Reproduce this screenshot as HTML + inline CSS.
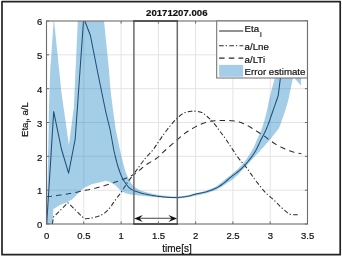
<!DOCTYPE html>
<html lang="en"><head><meta charset="utf-8"><title>20171207.006</title>
<style>
html,body{margin:0;padding:0;background:#fff;}
body{width:342px;height:257px;overflow:hidden;font-family:"Liberation Sans",Arial,sans-serif;}
svg{display:block;}
text{font-family:"Liberation Sans",Arial,sans-serif;fill:#111111;stroke:#111111;stroke-width:0.2px;}
</style></head><body>
<svg width="342" height="257" viewBox="0 0 342 257">
<rect x="0" y="0" width="342" height="257" fill="#fff"/>
<path d="M2,1.6 H340.2 V254.7 H2 Z" fill="none" stroke="#242424" stroke-width="1.7" stroke-linejoin="round"/>
<defs><clipPath id="ax"><rect x="46.5" y="21.0" width="261.0" height="203.0"/></clipPath></defs>
<path d="M83.8,21.0 V224.0 M121.1,21.0 V224.0 M158.4,21.0 V224.0 M195.6,21.0 V224.0 M232.9,21.0 V224.0 M270.2,21.0 V224.0 M46.5,190.2 H307.5 M46.5,156.3 H307.5 M46.5,122.5 H307.5 M46.5,88.7 H307.5 M46.5,54.8 H307.5" stroke="#e4e4e4" stroke-width="1" fill="none"/>
<g clip-path="url(#ax)">
<polyline points="52.4,224.0 53.4,217.2 67.9,202.7 84.4,218.8 85.9,218.7 87.4,218.6 88.9,218.4 90.4,218.1 91.9,217.9 93.4,217.5 94.9,217.2 96.4,216.8 97.9,216.4 99.4,215.8 100.9,215.2 102.4,214.5 103.9,213.6 105.4,212.4 107.0,210.9 108.5,209.2 110.0,207.4 111.5,205.6 113.0,203.4 114.5,201.2 116.0,199.1 117.5,197.1 119.0,195.2 120.5,193.2 122.0,191.1 123.5,188.8 125.0,186.3 126.5,183.9 128.0,181.7 129.5,179.6 131.0,177.7 132.5,175.7 134.0,173.7 135.5,171.6 137.0,169.5 138.5,167.4 140.0,165.3 141.5,163.3 143.0,161.2 144.5,159.3 146.0,157.5 147.5,155.8 149.1,154.2 150.6,152.6 152.1,150.9 153.6,149.0 155.1,146.9 156.6,144.7 158.1,142.4 159.6,140.2 161.1,138.1 162.6,135.9 164.1,133.8 165.6,131.7 167.1,129.7 168.6,127.8 170.1,126.0 171.6,124.1 173.1,122.4 174.6,120.7 176.1,119.2 177.6,117.8 179.1,116.5 180.6,115.2 182.1,114.1 183.6,113.2 185.1,112.6 186.6,112.2 188.1,111.8 189.6,111.4 191.1,111.2 192.7,111.1 194.2,111.1 195.7,111.2 197.2,111.4 198.7,111.7 200.2,112.0 201.7,112.4 203.2,113.2 204.7,114.3 206.2,115.6 207.7,117.0 209.2,118.3 210.7,119.8 212.2,121.3 213.7,123.0 215.2,124.8 216.7,126.9 218.2,129.0 219.7,131.1 221.2,133.0 222.7,135.0 224.2,136.9 225.7,139.0 227.2,141.3 228.7,143.5 230.2,145.9 231.7,148.1 233.2,150.4 234.7,152.7 236.3,155.0 237.8,157.1 239.3,159.1 240.8,160.9 242.3,162.6 243.8,164.3 245.3,166.1 246.8,168.0 248.3,170.1 249.8,172.3 251.3,174.4 252.8,176.6 254.3,178.7 255.8,180.7 257.3,182.7 258.8,184.6 260.3,186.5 261.8,188.4 263.3,190.2 264.8,191.9 266.3,193.4 267.8,194.8 269.3,196.1 270.8,197.4 272.3,198.6 273.8,199.9 275.3,201.3 276.8,202.9 278.4,204.5 279.9,206.1 281.4,207.5 282.9,208.8 284.4,210.1 285.9,211.4 287.4,212.6 288.9,213.6 290.4,214.4 291.9,214.7 293.4,214.7 294.9,214.7 296.4,214.7 297.9,214.7 299.4,214.7" fill="none" stroke="#2a2a2a" stroke-width="1.05" stroke-dasharray="4.6,2,1.3,2.3"/>
<polyline points="46.5,196.7 48.0,196.6 49.5,196.4 51.0,196.3 52.5,196.1 54.0,195.9 55.5,195.7 57.0,195.5 58.5,195.3 60.0,195.1 61.5,194.9 63.0,194.6 64.5,194.4 66.0,194.2 67.5,193.9 69.0,193.6 70.5,193.4 72.0,193.1 73.5,192.8 75.0,192.5 76.5,192.2 78.0,191.9 79.5,191.6 81.0,191.3 82.5,191.0 84.0,190.7 85.5,190.3 87.0,190.0 88.5,189.7 90.0,189.3 91.5,189.0 93.0,188.7 94.5,188.3 96.0,188.0 97.5,187.6 99.0,187.2 100.5,186.8 102.0,186.4 103.5,185.9 105.0,185.5 106.5,185.0 108.0,184.6 109.5,184.1 111.0,183.6 112.5,183.1 114.0,182.6 115.5,182.0 117.0,181.5 118.5,181.0 120.0,180.5 121.5,179.9 123.0,179.4 124.5,178.8 126.0,178.2 127.5,177.6 129.0,176.9 130.5,176.2 132.0,175.4 133.5,174.6 135.0,173.7 136.5,172.6 138.0,171.5 139.5,170.2 141.0,169.0 142.5,167.7 144.0,166.5 145.5,165.3 147.0,164.2 148.5,163.3 150.0,162.4 151.5,161.5 153.0,160.6 154.5,159.7 156.0,158.7 157.5,157.6 159.0,156.3 160.5,154.9 162.0,153.4 163.5,151.9 165.0,150.5 166.5,149.1 168.0,147.8 169.5,146.5 171.0,145.2 172.5,143.9 174.0,142.6 175.5,141.3 177.0,140.0 178.5,138.7 180.0,137.4 181.5,136.1 183.0,134.8 184.5,133.6 186.0,132.5 187.5,131.5 189.0,130.6 190.5,129.6 192.0,128.8 193.5,127.9 195.0,127.1 196.5,126.3 198.0,125.5 199.5,124.8 201.0,124.2 202.5,123.6 204.0,123.1 205.5,122.5 207.0,122.0 208.5,121.6 210.0,121.2 211.5,121.0 213.0,120.9 214.5,120.7 216.0,120.6 217.5,120.5 219.0,120.5 220.5,120.4 222.0,120.4 223.5,120.4 225.0,120.4 226.5,120.5 228.0,120.5 229.5,120.6 231.0,120.7 232.5,120.8 234.0,121.0 235.5,121.2 237.0,121.4 238.5,121.7 240.0,122.2 241.5,122.8 243.0,123.4 244.5,124.1 246.0,124.8 247.5,125.6 249.0,126.4 250.5,127.3 252.0,128.3 253.5,129.2 255.0,130.2 256.5,131.1 258.0,132.0 259.5,133.0 261.0,133.9 262.5,134.9 264.0,135.9 265.5,136.9 267.0,138.1 268.5,139.3 270.0,140.4 271.5,141.5 273.0,142.5 274.5,143.5 276.0,144.4 277.5,145.3 279.0,146.1 280.5,146.9 282.0,147.6 283.5,148.3 285.0,149.0 286.5,149.6 288.0,150.3 289.5,150.8 291.0,151.3 292.5,151.8 294.0,152.2 295.5,152.6 297.0,152.9 298.5,153.2 300.0,153.5 301.5,153.7" fill="none" stroke="#2a2a2a" stroke-width="1.05" stroke-dasharray="5.5,4.2"/>
<polygon points="46.5,224.0 47.6,180.0 48.7,127.0 48.8,113.0 50.3,68.0 51.4,54.0 53.8,18.0 61.4,92.0 68.9,145.3 73.8,108.0 77.8,21.0 78.5,10.0 103.0,10.0 104.0,21.0 109.0,70.0 110.4,88.7 113.0,110.0 115.8,130.0 120.0,150.0 121.5,156.8 123.0,162.8 124.5,168.2 126.0,172.7 127.5,176.4 129.0,179.6 130.5,182.2 132.0,184.2 133.5,185.9 135.0,187.3 136.5,188.3 138.0,189.2 139.5,189.9 141.0,190.5 142.5,191.1 144.0,191.6 145.5,192.0 147.0,192.4 148.5,192.8 150.0,193.2 151.5,193.5 153.0,193.9 154.5,194.2 156.0,194.5 157.5,194.8 159.1,195.0 160.6,195.3 162.1,195.5 163.6,195.6 165.1,195.8 166.6,195.9 168.1,196.0 169.6,196.2 171.1,196.3 172.6,196.4 174.1,196.4 175.6,196.5 177.1,196.5 178.6,196.5 180.1,196.4 181.6,196.3 183.1,196.1 184.6,195.8 186.1,195.5 187.6,195.2 189.1,194.9 190.6,194.6 192.1,194.2 193.6,193.8 195.1,193.5 196.6,193.1 198.1,192.8 199.6,192.4 201.1,192.1 202.6,191.7 204.1,191.3 205.6,190.8 207.1,190.3 208.6,189.8 210.1,189.2 211.6,188.6 213.1,187.9 214.6,187.2 216.1,186.4 217.6,185.4 219.1,184.3 220.6,183.1 222.1,181.8 223.6,180.6 225.1,179.4 226.6,178.2 228.1,177.1 229.6,175.9 231.1,174.7 232.6,173.5 234.1,172.2 235.6,170.9 237.2,169.5 238.7,168.0 240.2,166.5 241.7,164.9 243.2,163.2 244.7,161.4 246.2,159.4 247.7,157.3 249.2,155.1 250.7,152.6 252.2,150.0 253.7,147.3 255.2,143.9 256.7,140.3 258.2,137.1 259.7,133.9 261.2,130.2 262.7,126.0 264.2,121.2 265.7,115.5 267.2,109.2 268.7,102.1 270.2,95.4 271.7,89.4 273.2,83.8 274.7,78.7 279.0,21.0 280.0,10.0 301.0,10.0 301.0,85.7 295.1,78.7 294.0,72.0 292.8,78.7 288.3,100.0 285.5,110.0 280.3,124.8 278.8,128.5 270.7,138.8 269.2,140.6 267.7,142.3 266.2,144.0 264.7,145.8 263.2,147.4 261.6,149.1 260.1,150.7 258.6,152.4 257.1,153.9 255.6,155.5 254.1,157.2 252.6,158.8 251.1,160.5 249.6,162.2 248.1,163.9 246.6,165.6 245.0,167.2 243.5,168.8 242.0,170.5 240.5,172.1 239.0,173.7 237.5,175.2 236.0,176.6 234.5,177.9 233.0,179.1 231.5,180.2 230.0,181.3 228.4,182.3 226.9,183.3 225.4,184.3 223.9,185.3 222.4,186.3 220.9,187.2 219.4,188.1 217.9,188.9 216.4,189.7 214.9,190.4 213.4,191.0 211.8,191.5 210.3,192.0 208.8,192.5 207.3,193.0 205.8,193.4 204.3,193.8 202.8,194.2 201.3,194.5 199.8,194.9 198.3,195.2 196.8,195.5 195.2,195.8 193.7,196.1 192.2,196.4 190.7,196.7 189.2,197.0 187.7,197.3 186.2,197.6 184.7,197.8 183.2,198.0 181.7,198.2 180.1,198.3 178.6,198.4 177.1,198.4 175.6,198.4 174.1,198.3 172.6,198.3 171.1,198.2 169.6,198.1 168.1,198.1 166.6,198.0 165.1,197.9 163.5,197.8 162.0,197.7 160.5,197.6 159.0,197.5 157.5,197.3 156.0,197.2 154.5,197.1 153.0,196.9 151.5,196.7 150.0,196.6 148.5,196.4 146.9,196.3 145.4,196.1 143.9,195.9 142.4,195.8 140.9,195.6 139.4,195.5 137.9,195.4 136.4,195.2 134.9,195.1 133.4,194.9 131.9,194.7 130.3,194.4 128.8,194.1 127.3,193.7 125.8,193.2 124.3,192.5 122.8,191.8 121.3,191.0 119.8,189.8 118.3,188.3 116.8,186.7 115.3,185.2 113.7,184.1 112.2,183.2 110.7,182.5 109.2,181.8 107.7,181.2 106.2,180.8 91.6,184.3 83.4,188.3 72.0,199.6 66.8,202.3 60.6,204.8 53.4,208.9 52.4,224.0 46.5,224.0" fill="#0072bd" fill-opacity="0.355"/>
<polyline points="46.7,224.0 53.7,111.6 61.4,149.0 68.6,173.1 75.2,139.0 80.6,62.0 83.7,18.0 90.4,35.5 98.2,75.0 105.8,112.0 110.2,130.0 113.8,150.0 115.3,156.5 116.8,162.4 118.3,167.5 119.8,172.0 121.3,175.8 122.8,178.9 124.4,181.5 125.9,183.8 127.4,185.8 128.9,187.5 130.4,188.7 131.9,189.6 133.4,190.4 134.9,191.0 136.4,191.6 137.9,192.1 139.4,192.6 140.9,193.0 142.5,193.4 144.0,193.8 145.5,194.1 147.0,194.4 148.5,194.7 150.0,195.0 151.5,195.3 153.0,195.5 154.5,195.7 156.0,196.0 157.5,196.2 159.0,196.4 160.6,196.6 162.1,196.8 163.6,197.0 165.1,197.1 166.6,197.2 168.1,197.3 169.6,197.4 171.1,197.4 172.6,197.5 174.1,197.5 175.6,197.5 177.1,197.4 178.7,197.4 180.2,197.2 181.7,197.1 183.2,196.9 184.7,196.7 186.2,196.5 187.7,196.2 189.2,195.9 190.7,195.5 192.2,195.1 193.7,194.6 195.2,194.2 196.8,193.8 198.3,193.5 199.8,193.2 201.3,192.9 202.8,192.6 204.3,192.2 205.8,191.9 207.3,191.5 208.8,191.0 210.3,190.5 211.8,189.9 213.3,189.3 214.9,188.6 216.4,187.9 217.9,187.1 219.4,186.2 220.9,185.2 222.4,184.2 223.9,183.1 225.4,181.8 226.9,180.5 228.4,179.1 229.9,177.8 231.4,176.6 233.0,175.4 234.5,174.3 236.0,173.2 237.5,172.0 239.0,170.8 240.5,169.5 242.0,168.1 243.5,166.6 245.0,165.0 246.5,163.3 248.0,161.5 249.5,159.6 251.1,157.6 252.6,155.5 254.1,153.2 255.6,150.7 257.1,148.0 258.6,144.8 260.1,141.6 261.6,138.6 263.1,135.7 264.6,132.7 266.1,129.5 267.6,125.9 269.2,121.8 270.7,117.4 272.2,113.0 273.7,108.7 275.2,104.3 276.7,100.0 278.2,95.6 280.4,78.0 282.6,55.0 284.5,30.0 285.5,16.0" fill="none" stroke="#1f4f76" stroke-width="1.05" stroke-linejoin="round"/>
</g>
<path d="M133.9,21 V224 M177.3,21 V224" stroke="#6a6a6a" stroke-width="1.5" fill="none"/>
<path d="M138,218.3 H173" stroke="#444" stroke-width="1.1" fill="none"/>
<path d="M134.2,218.4 L142.8,214.9 L139.6,218.4 L142.8,221.9 Z M177,218.4 L168.4,214.9 L171.6,218.4 L168.4,221.9 Z" fill="#111"/>
<rect x="46.5" y="21.0" width="261.0" height="203.0" fill="none" stroke="#6c6c6c" stroke-width="1.1"/>
<path d="M133.2,21 H178 M133.2,224 H178" stroke="#3a3a3a" stroke-width="1.3" fill="none"/>
<path d="M46.5,224.0 v-2.6 M46.5,21.0 v2.6 M83.8,224.0 v-2.6 M83.8,21.0 v2.6 M121.1,224.0 v-2.6 M121.1,21.0 v2.6 M158.4,224.0 v-2.6 M158.4,21.0 v2.6 M195.6,224.0 v-2.6 M195.6,21.0 v2.6 M232.9,224.0 v-2.6 M232.9,21.0 v2.6 M270.2,224.0 v-2.6 M270.2,21.0 v2.6 M307.5,224.0 v-2.6 M307.5,21.0 v2.6 M46.5,224.0 h2.6 M307.5,224.0 h-2.6 M46.5,190.2 h2.6 M307.5,190.2 h-2.6 M46.5,156.3 h2.6 M307.5,156.3 h-2.6 M46.5,122.5 h2.6 M307.5,122.5 h-2.6 M46.5,88.7 h2.6 M307.5,88.7 h-2.6 M46.5,54.8 h2.6 M307.5,54.8 h-2.6 M46.5,21.0 h2.6 M307.5,21.0 h-2.6" stroke="#6c6c6c" stroke-width="1" fill="none"/>
<g font-size="9.5" text-anchor="middle">
<text x="46.6" y="238.8">0</text><text x="83.9" y="238.8">0.5</text><text x="121.2" y="238.8">1</text><text x="158.5" y="238.8">1.5</text><text x="195.7" y="238.8">2</text><text x="233.0" y="238.8">2.5</text><text x="270.3" y="238.8">3</text><text x="307.6" y="238.8">3.5</text>
</g>
<g font-size="9.5" text-anchor="end">
<text x="42.3" y="228.2">0</text><text x="42.3" y="194.4">1</text><text x="42.3" y="160.5">2</text><text x="42.3" y="126.7">3</text><text x="42.3" y="92.9">4</text><text x="42.3" y="59.0">5</text><text x="42.3" y="25.2">6</text>
</g>
<text x="177" y="251.6" font-size="10" text-anchor="middle">time[s]</text>
<text transform="translate(27.7,119.6) rotate(-90)" font-size="9.6" text-anchor="middle">Eta<tspan font-size="7.5" dy="2.9">i</tspan><tspan dy="-2.9">, a/L</tspan></text>
<text x="176.8" y="16.1" font-size="9.6" font-weight="bold" text-anchor="middle" fill="#000">20171207.006</text>
<rect x="216.7" y="21" width="90.7" height="57" fill="#fff" stroke="#6c6c6c" stroke-width="1"/>
<path d="M219.1,31 H243.3" stroke="#1a1a1a" stroke-width="0.95"/>
<path d="M219.1,45.7 H243.3" stroke="#2a2a2a" stroke-width="1.05" stroke-dasharray="4.6,2,1.3,2.3"/>
<path d="M219.1,58.1 H243.3" stroke="#2a2a2a" stroke-width="1.05" stroke-dasharray="5.5,4.2"/>
<rect x="219.1" y="64.9" width="24" height="11.9" fill="#a5cde9"/>
<g font-size="9.7">
<text x="244.6" y="32.4">Eta<tspan font-size="7.5" dx="0.9" dy="4.4">i</tspan></text>
<text x="244.6" y="49.7">a/Lne</text>
<text x="244.6" y="63.2">a/LTi</text>
<text x="244.6" y="75.4">Error estimate</text>
</g>
</svg>
</body></html>
